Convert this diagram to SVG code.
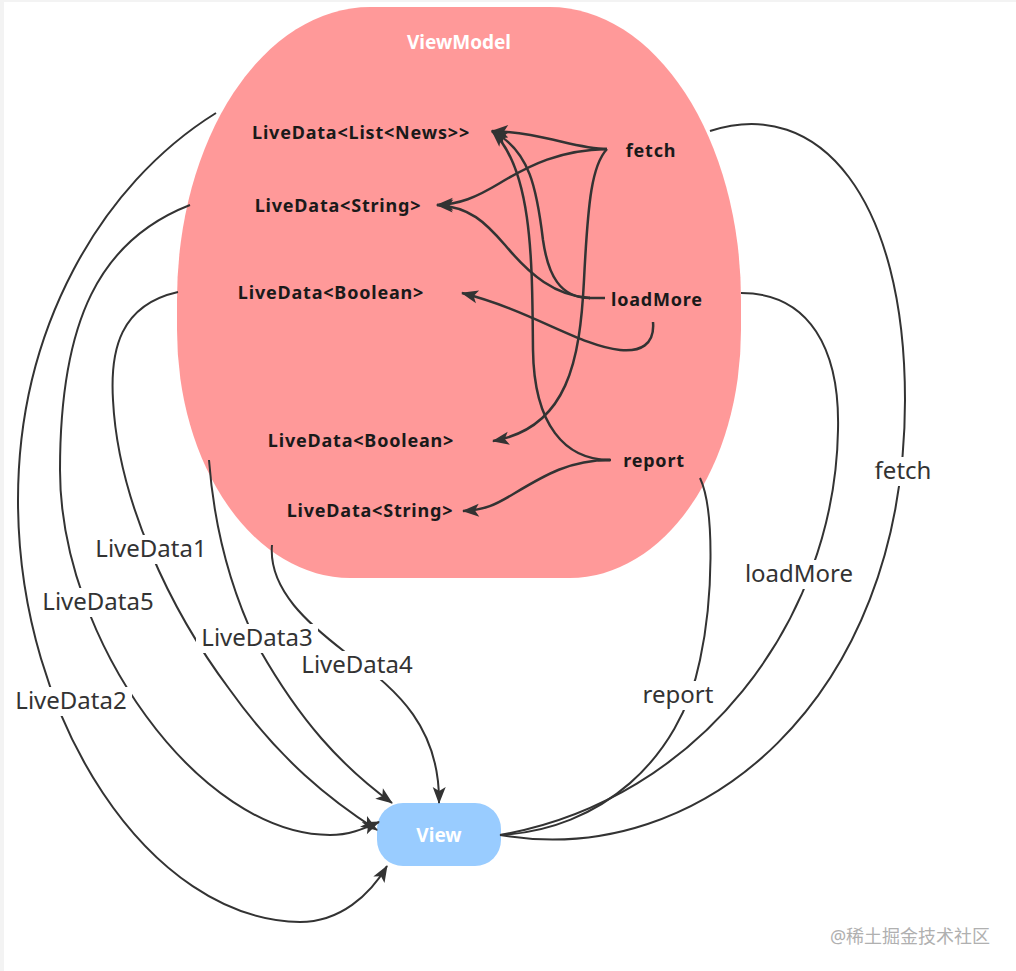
<svg xmlns="http://www.w3.org/2000/svg" width="1016" height="971" viewBox="0 0 1016 971">
<style>
.inner{font-family:"Noto Sans","Liberation Sans",sans-serif;font-weight:bold;font-size:18px;letter-spacing:0.8px;fill:#1a1a1a;text-anchor:middle}
.title{font-family:"Noto Sans","Liberation Sans",sans-serif;font-weight:bold;font-size:19px;fill:#ffffff;text-anchor:middle}
.elabel{font-family:"Noto Sans","Liberation Sans",sans-serif;font-size:24px;fill:#333333;text-anchor:middle}
.lbg{fill:#ffffff}
.c{fill:none;stroke:#333333;stroke-width:2.5}
.o{fill:none;stroke:#333333;stroke-width:2}
.a{marker-end:url(#arr)}
.wm{font-family:"Noto Sans","Noto Sans CJK SC",sans-serif;font-size:18px;fill:#b0b0b0;text-anchor:middle}
</style>
<defs>
<marker id="arr" markerUnits="userSpaceOnUse" markerWidth="20" markerHeight="16" refX="17" refY="8" orient="auto">
<path d="M1,1.5 L18,8 L1,14.5 L5,8 Z" fill="#333333"/>
</marker>
</defs>
<rect x="0" y="0" width="1016" height="971" fill="#f3f3f3"/>
<rect x="4" y="2" width="1012" height="969" fill="#ffffff"/>

<g id="viewmodel">
<path d="M370,7 L550,7 A191,293 0 0 1 741,300 L741,330 A171,248 0 0 1 570,578 L350,578 A173,248 0 0 1 177,330 L177,300 A193,293 0 0 1 370,7 Z" fill="#ff9999"/>
<text class="title" x="459" y="49">ViewModel</text>
</g>

<g id="view">
<rect x="377" y="803" width="124" height="63" rx="26" ry="26" fill="#99ccff"/>
<text class="title" x="439" y="842">View</text>
</g>

<g id="connectors">
<!-- inner -->
<path class="c a" d="M607,149 C575,149 545,133 492,131"/>
<path class="c a" d="M607,149 C560,150 530,165 500,183 C475,198 460,204 437,205"/>
<path class="c a" d="M607,149 C592,165 588,200 584,280 C580,360 568,428 493,441"/>
<path class="c" d="M589,298 L605,298"/>
<path class="c a" d="M590,298 C560,298 548,275 543,240 C537,190 530,150 492,131"/>
<path class="c a" d="M590,298 C555,296 530,275 505,245 C485,222 470,207 437,205"/>
<path class="c a" d="M653,322 C655,345 640,352 620,350 C580,346 530,310 462,293"/>
<path class="c" d="M598,460 L611,460"/>
<path class="c a" d="M610,460 C565,460 534,425 533,350 C532,270 534,170 492,131"/>
<path class="c a" d="M610,460 C570,460 545,475 515,493 C495,505 485,510 463,511"/>
<!-- outer left -->
<path class="o a" d="M216,113 C100,185 18,330 18,500 C18,720 150,920 300,922 C340,922 370,895 387,866"/>
<path class="o a" d="M190,205 C100,240 60,320 60,470 C60,640 200,835 330,835 C350,835 365,828 379,822"/>
<path class="o a" d="M178,292 C120,305 110,350 113,400 C118,500 170,610 230,690 C280,760 330,800 377,830"/>
<path class="o a" d="M209,460 C215,540 235,600 260,650 C300,720 340,765 392,803"/>
<path class="o a" d="M272,545 C268,590 310,625 345,652 C400,690 440,730 439,803"/>
<!-- outer right -->
<path class="o" d="M710,131 C820,95 905,200 905,400 C905,700 700,870 500,835"/>
<path class="o" d="M741,293 C810,293 840,350 838,430 C835,620 700,800 500,835"/>
<path class="o" d="M700,478 C715,510 713,600 700,660 C680,760 600,830 500,835"/>
</g>

<g id="edge-labels">
<rect class="lbg" x="91" y="535" width="120" height="29"/><text class="elabel" x="151" y="557">LiveData1</text>
<rect class="lbg" x="37" y="588" width="122" height="29"/><text class="elabel" x="98" y="610">LiveData5</text>
<rect class="lbg" x="196" y="624" width="122" height="29"/><text class="elabel" x="257" y="646">LiveData3</text>
<rect class="lbg" x="296" y="651" width="122" height="29"/><text class="elabel" x="357" y="673">LiveData4</text>
<rect class="lbg" x="10" y="687" width="122" height="29"/><text class="elabel" x="71" y="709">LiveData2</text>
<rect class="lbg" x="869" y="457" width="68" height="29"/><text class="elabel" x="903" y="479">fetch</text>
<rect class="lbg" x="738" y="560" width="122" height="29"/><text class="elabel" x="799" y="582">loadMore</text>
<rect class="lbg" x="638" y="681" width="80" height="29"/><text class="elabel" x="678" y="703">report</text>
</g>

<g id="livedata-news"><text class="inner" x="361" y="139">LiveData&lt;List&lt;News&gt;&gt;</text></g>
<g id="livedata-string1"><text class="inner" x="338" y="212">LiveData&lt;String&gt;</text></g>
<g id="livedata-boolean1"><text class="inner" x="331" y="299">LiveData&lt;Boolean&gt;</text></g>
<g id="livedata-boolean2"><text class="inner" x="361" y="447">LiveData&lt;Boolean&gt;</text></g>
<g id="livedata-string2"><text class="inner" x="370" y="517">LiveData&lt;String&gt;</text></g>
<g id="fetch"><text class="inner" x="651" y="157">fetch</text></g>
<g id="loadmore"><text class="inner" x="657" y="306">loadMore</text></g>
<g id="report"><text class="inner" x="654" y="467">report</text></g>

<text class="wm" x="910" y="943">@稀土掘金技术社区</text>
</svg>
